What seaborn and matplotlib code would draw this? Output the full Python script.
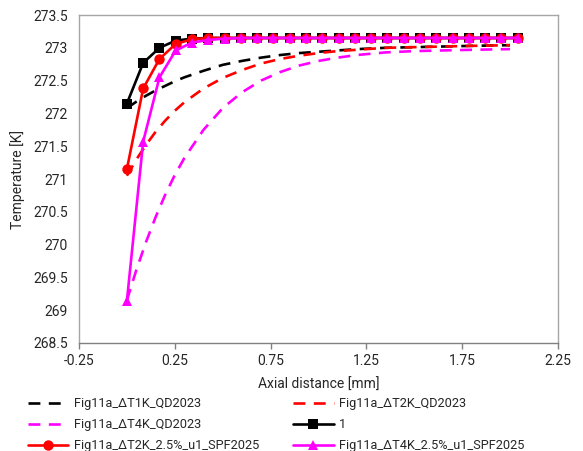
import numpy as np
import pandas as pd
import matplotlib
matplotlib.use("Agg")
import matplotlib.pyplot as plt
import seaborn as sns

# Axial grid of the simulated (marker) series [mm]
x_sim = [0.0, 0.085, 0.17, 0.255, 0.34, 0.425, 0.51, 0.595, 0.68, 0.765,
         0.85, 0.935, 1.02, 1.105, 1.19, 1.275, 1.36, 1.445, 1.53, 1.615,
         1.7, 1.785, 1.87, 1.955, 2.04]

t_case1 = [272.15, 272.77, 273.0, 273.11, 273.14, 273.15, 273.15, 273.15, 273.15,
           273.15, 273.15, 273.15, 273.15, 273.15, 273.15, 273.15, 273.15, 273.15,
           273.15, 273.15, 273.15, 273.15, 273.15, 273.15, 273.15]
t_dt2k_spf = [271.15, 272.38, 272.83, 273.06, 273.13, 273.15, 273.15, 273.15, 273.15,
              273.15, 273.15, 273.15, 273.15, 273.15, 273.15, 273.15, 273.15, 273.15,
              273.15, 273.15, 273.15, 273.15, 273.15, 273.15, 273.15]
t_dt4k_spf = [269.14, 271.57, 272.55, 272.96, 273.08, 273.12, 273.14, 273.15, 273.15,
              273.15, 273.15, 273.15, 273.15, 273.15, 273.15, 273.15, 273.15, 273.15,
              273.15, 273.15, 273.15, 273.15, 273.15, 273.15, 273.15]

# Reference (QD2023) profiles [mm]
x_ref = [0.0, 0.05, 0.1, 0.15, 0.2, 0.25, 0.3, 0.4, 0.5, 0.6, 0.7, 0.8,
         0.9, 1.0, 1.1, 1.2, 1.35, 1.5, 1.65, 1.8, 2.0]
t_dt1k_qd = [272.08, 272.18, 272.27, 272.35, 272.42, 272.49, 272.55, 272.65, 272.74,
             272.80, 272.85, 272.89, 272.92, 272.94, 272.96, 272.98, 273.00, 273.01,
             273.02, 273.03, 273.04]
t_dt2k_qd = [271.05, 271.30, 271.52, 271.72, 271.89, 272.04, 272.17, 272.38, 272.54,
             272.66, 272.76, 272.83, 272.88, 272.92, 272.95, 272.97, 273.00, 273.01,
             273.02, 273.03, 273.04]
t_dt4k_qd = [269.15, 269.62, 270.04, 270.42, 270.76, 271.06, 271.32, 271.75, 272.08,
             272.32, 272.50, 272.63, 272.73, 272.80, 272.85, 272.89, 272.93, 272.95,
             272.96, 272.97, 272.98]

labels = ["Fig11a_ΔT1K_QD2023", "Fig11a_ΔT2K_QD2023", "Fig11a_ΔT4K_QD2023",
          "1", "Fig11a_ΔT2K_2.5%_u1_SPF2025", "Fig11a_ΔT4K_2.5%_u1_SPF2025"]

sns.set_theme(style="white")
plt.rcParams["font.family"] = ["Roboto", "DejaVu Sans"]

fig = plt.figure(figsize=(5.83, 4.51), dpi=100)
ax = fig.add_axes([0.1355, 0.2395, 0.8215, 0.7272])

dash = (4.5, 3.2)
ref_series = [(x_ref, t_dt1k_qd, "black"), (x_ref, t_dt2k_qd, "red"),
              (x_ref, t_dt4k_qd, "magenta")]
for (xs, ys, c), lab in zip(ref_series, labels[:3]):
    sns.lineplot(x=xs, y=ys, ax=ax, color=c, lw=1.9, label=lab,
                 dashes=False, sort=False)
    ax.lines[-1].set_dashes(dash)

sim_series = [(t_case1, "black", "s", 6.5), (t_dt2k_spf, "red", "o", 7.5),
              (t_dt4k_spf, "magenta", "^", 7.5)]
for (ys, c, m, ms), lab in zip(sim_series, labels[3:]):
    sns.lineplot(x=x_sim, y=ys, ax=ax, color=c, lw=1.9, marker=m,
                 markersize=ms, markeredgewidth=0, label=lab, sort=False)

ax.set_xlim(-0.25, 2.25)
ax.set_ylim(268.5, 273.5)
ax.set_xticks([-0.25, 0.25, 0.75, 1.25, 1.75, 2.25])
ax.set_xticklabels(["-0.25", "0.25", "0.75", "1.25", "1.75", "2.25"])
yt = [268.5, 269, 269.5, 270, 270.5, 271, 271.5, 272, 272.5, 273, 273.5]
ax.set_yticks(yt)
ax.set_yticklabels(["268.5", "269", "269.5", "270", "270.5", "271", "271.5",
                    "272", "272.5", "273", "273.5"])
ax.tick_params(axis="x", direction="out", length=4, width=1, color="#808080",
               labelsize=10, pad=4, labelcolor="#262626")
ax.tick_params(axis="y", length=0, labelsize=10, pad=8, labelcolor="#262626")
ax.tick_params(axis="x", bottom=True)
for s in ["top", "right", "left"]:
    ax.spines[s].set_color("#a6a6a6")
    ax.spines[s].set_linewidth(1)
ax.spines["bottom"].set_color("#808080")
ax.spines["bottom"].set_linewidth(1)
ax.grid(False)

ax.set_xlabel("Axial distance [mm]", fontsize=10, color="#262626", labelpad=7)
ax.set_ylabel("Temperature [K]", fontsize=10, color="#262626", labelpad=6)

handles, labs = ax.get_legend_handles_labels()
ax.get_legend().remove()
order = [0, 2, 4, 1, 3, 5]
fig.legend([handles[i] for i in order], [labs[i] for i in order],
           loc="lower left", bbox_to_anchor=(0.032, -0.022), ncol=2, frameon=False,
           fontsize=9.2, handlelength=3.2, handletextpad=0.4, columnspacing=2.65,
           labelspacing=0.62, borderaxespad=0.3, labelcolor="#262626")

fig.savefig("out.png", dpi=100)
